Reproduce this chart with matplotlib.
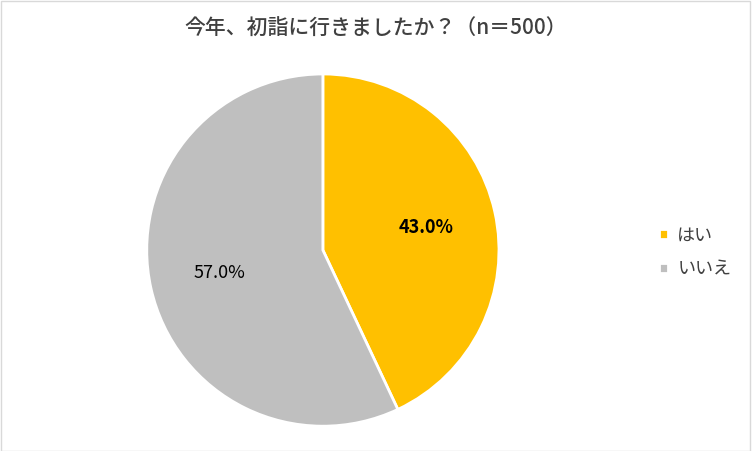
import matplotlib
matplotlib.use("Agg")
import matplotlib.pyplot as plt
from matplotlib.patches import Rectangle

plt.rcParams['font.family'] = ['Noto Sans CJK JP', 'DejaVu Sans']

title = "今年、初詣に行きましたか？（n＝500）"
labels = ["はい", "いいえ"]
values = [43.0, 57.0]
colors = ["#FFC000", "#BFBFBF"]

fig = plt.figure(figsize=(7.52, 4.51), dpi=100)
fig.patches.append(Rectangle((0.001, 0.001), 0.997, 0.997, transform=fig.transFigure,
                             fill=False, edgecolor="#D9D9D9", linewidth=1))
ax = fig.add_axes([0.194, 0.053, 0.4707, 0.785])
wedges, texts, autotexts = ax.pie(values, colors=colors, startangle=90, counterclock=False,
                                  autopct='%1.1f%%', pctdistance=0.6,
                                  wedgeprops=dict(edgecolor="white", linewidth=2),
                                  textprops=dict(fontsize=13, color="#000000"))
autotexts[0].set_fontweight("bold")
ax.set_xlim(-1.005, 1.005)
ax.set_ylim(-1.005, 1.005)
ax.set_aspect("equal")
fig.text(0.5, 0.935, title, ha="center", va="center", fontsize=15, color="#404040",
         fontweight="medium")
leg = fig.legend(wedges, labels, loc="center left", bbox_to_anchor=(0.855, 0.44),
                 frameon=False, fontsize=13, handlelength=0.5, handleheight=0.5,
                 handletextpad=0.5, labelspacing=0.9)
for t in leg.get_texts():
    t.set_color("#404040")
fig.savefig("out.png", dpi=100)
